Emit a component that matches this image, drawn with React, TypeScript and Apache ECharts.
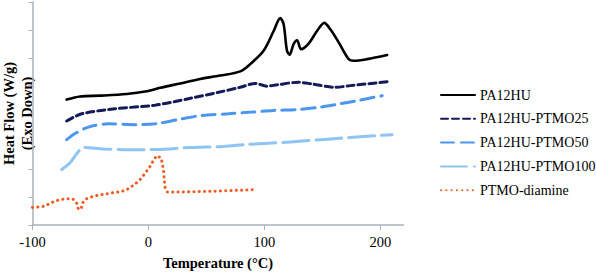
import React, { useEffect, useRef } from "react";
import * as echarts from "echarts";

const seriesNames = ["PA12HU", "PA12HU-PTMO25", "PA12HU-PTMO50", "PA12HU-PTMO100", "PTMO-diamine"];
const xTickValues = [-100, 0, 100, 200];

const pa12huT = [-70.5, -59, -41.7, -18.7, -1.4, 10.1, 27.4, 44.6, 61.9, 79.2, 88, 99.3, 108, 113.7, 116.6, 119.5, 121.8, 125.2, 128.2, 131.6, 138.2, 145.4, 151.7, 156.9, 164.1, 172.7, 177, 188.6, 205.9];
const pa12huHF = [4.5, 4.61, 4.64, 4.7, 4.8, 4.92, 5.08, 5.24, 5.36, 5.51, 5.78, 6.25, 6.96, 7.42, 7.2, 6.25, 6.11, 6.49, 6.63, 6.31, 6.51, 6.96, 7.25, 7.02, 6.55, 5.95, 5.89, 5.95, 6.1];

const ptmo25T = [-70.5, -57.5, -28.8, 5.8, 34.5, 60.4, 79.2, 92.2, 102.2, 110.9, 129.5, 141.1, 161.2, 174.2, 205.9];
const ptmo25HF = [3.73, 3.99, 4.17, 4.3, 4.53, 4.76, 4.94, 5.08, 4.98, 5.03, 5.12, 5.06, 4.94, 5.0, 5.14];

const ptmo50T = [-70.5, -63.3, -51.8, -34.5, -11.5, 5.8, 28.8, 46.1, 69.1, 89.3, 107.9, 128.2, 148.3, 165.6, 180, 201.6];
const ptmo50HF = [3.06, 3.28, 3.51, 3.63, 3.6, 3.63, 3.81, 3.93, 3.99, 4.05, 4.11, 4.14, 4.23, 4.35, 4.46, 4.64];

const ptmo100T = [-74.8, -67.6, -61.8, -56.1, -38.9, -18.7, 7.3, 36, 64.8, 85, 122.4, 148.3, 177, 210.2];
const ptmo100HF = [1.99, 2.23, 2.56, 2.78, 2.73, 2.7, 2.71, 2.78, 2.82, 2.89, 2.98, 3.06, 3.15, 3.24];

const diamineT = [-100, -93.5, -89.2, -84.9, -80.6, -74.8, -69.9, -65.3, -61.8, -60.4, -58.1, -57, -54.1, -48.9, -44.6, -38.9, -34.5, -28.8, -24.4, -19.3, -14.9, -10.9, -7.2, -3.7, -0.5, 2.1, 4.3, 7.3, 11, 12.1, 13, 13.6, 14.4, 16.4, 21.6, 36, 56.1, 86.4, 93.6];
const diamineHF = [0.63, 0.65, 0.68, 0.78, 0.86, 0.92, 0.94, 0.94, 0.78, 0.57, 0.57, 0.78, 0.93, 1.01, 1.06, 1.1, 1.13, 1.17, 1.19, 1.25, 1.37, 1.49, 1.63, 1.81, 1.99, 2.14, 2.32, 2.49, 2.4, 2.18, 1.96, 1.66, 1.33, 1.18, 1.18, 1.19, 1.21, 1.26, 1.28];

const zip = (xs: number[], ys: number[]) => xs.map((x, i) => [x, ys[i]]);

const SERIF = "Liberation Serif";
const AXIS_COLOR = "#a7b2ba";

export default function App() {
  const ref = useRef<HTMLDivElement>(null);
  useEffect(() => {
    if (!ref.current) return;
    const chart = echarts.init(ref.current, undefined, { renderer: "svg" });
    const mk = (name: string, data: number[][], color: string, width: number, type: any, smooth: number | boolean) => ({
      name,
      type: "line",
      data,
      symbol: "none",
      showSymbol: false,
      smooth,
      lineStyle: { color, width, type, cap: "round" },
      itemStyle: { color },
    });
    chart.setOption({
      animation: false,
      textStyle: { fontFamily: SERIF },
      grid: { left: 32.5, top: 2, width: 371, height: 223, containLabel: false, outerBoundsMode: "none" },
      legend: {
        orient: "vertical",
        left: 435,
        top: 83,
        itemWidth: 34,
        itemHeight: 14,
        itemGap: 9.8,
        itemStyle: { opacity: 0, borderWidth: 0 },
        textStyle: { fontFamily: SERIF, fontSize: 14, color: "#000", lineHeight: 14 },
        data: seriesNames,
      },
      xAxis: {
        type: "value",
        min: -100,
        max: 220,
        interval: 100,
        name: "Temperature (°C)",
        nameLocation: "middle",
        nameGap: 30.5,
        nameTextStyle: { fontFamily: SERIF, fontSize: 14.5, fontWeight: "bold", color: "#000" },
        axisLine: { onZero: false, lineStyle: { color: AXIS_COLOR, width: 1.5 } },
        axisTick: { show: true, length: 5, customValues: xTickValues, lineStyle: { color: AXIS_COLOR } },
        axisLabel: { customValues: xTickValues, margin: 9, fontFamily: SERIF, fontSize: 14.5, color: "#000" },
        splitLine: { show: false },
      },
      yAxis: {
        type: "value",
        min: 0,
        max: 8,
        interval: 1,
        name: "Heat Flow (W/g)\n(Exo Down)",
        nameLocation: "middle",
        nameRotate: 90,
        nameGap: -3,
        nameTextStyle: { fontFamily: SERIF, fontSize: 14.5, fontWeight: "bold", color: "#000", lineHeight: 18, align: "center" },
        axisLine: { show: true, onZero: false, lineStyle: { color: AXIS_COLOR, width: 1.5 } },
        axisTick: { show: true, length: 4, lineStyle: { color: AXIS_COLOR } },
        axisLabel: { show: false },
        splitLine: { show: false },
      },
      series: [
        mk(seriesNames[0], zip(pa12huT, pa12huHF), "#000000", 2.6, "solid", 0.3),
        mk(seriesNames[1], zip(ptmo25T, ptmo25HF), "#141a5a", 3, [7, 4], 0.3),
        mk(seriesNames[2], zip(ptmo50T, ptmo50HF), "#4d96ee", 3, [13, 7], 0.3),
        mk(seriesNames[3], zip(ptmo100T, ptmo100HF), "#8fc4f4", 3, [26, 7], 0.3),
        mk(seriesNames[4], zip(diamineT, diamineHF), "#f05a22", 3, [0.1, 5.2], false),
      ],
    });
    return () => chart.dispose();
  }, []);
  return <div ref={ref} style={{ position: "absolute", left: 0, top: 0, width: 596, height: 272 }} />;
}
